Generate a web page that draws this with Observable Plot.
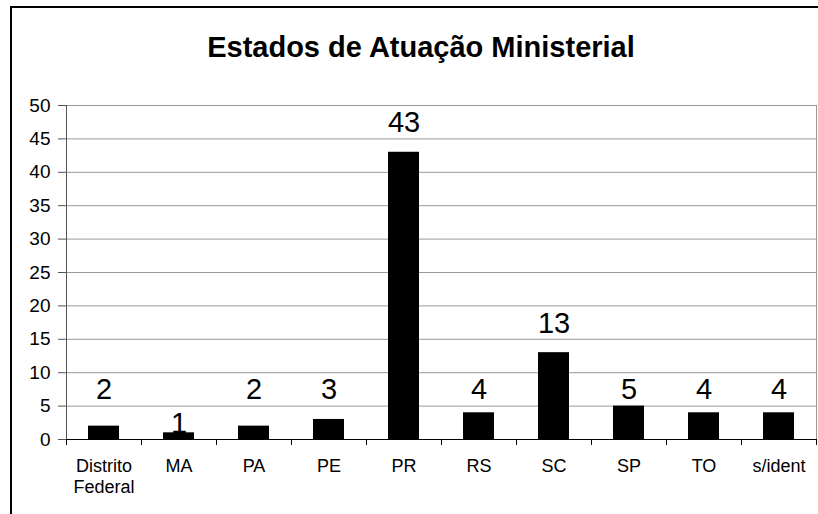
<!DOCTYPE html>
<html>
<head>
<meta charset="utf-8">
<script src="https://cdn.jsdelivr.net/npm/d3@7"></script>
<script src="https://cdn.jsdelivr.net/npm/@observablehq/plot@0.6"></script>
<style>
  html, body { margin: 0; padding: 0; background: #fff; overflow: hidden; }
  #wrap { position: relative; width: 818px; height: 514px; overflow: hidden; font-family: "Liberation Sans", Arial, sans-serif; }
  #border { position: absolute; left: 10px; top: 6px; width: 900px; height: 700px; border: 2px solid #000; box-sizing: border-box; }
  #title { position: absolute; left: 12px; width: 818px; top: 32px; text-align: center; font-weight: bold; font-size: 29px; line-height: 30px; color: #000; }
  #chart { position: absolute; left: 0; top: 75px; }
</style>
</head>
<body>
<div id="wrap">
  <div id="border"></div>
  <div id="title">Estados de Atuação Ministerial</div>
  <div id="chart"></div>
</div>
<script>
const states = ["Distrito Federal", "MA", "PA", "PE", "PR", "RS", "SC", "SP", "TO", "s/ident"];
const counts = [2, 1, 2, 3, 43, 4, 13, 5, 4, 4];
const yTicks = [0, 5, 10, 15, 20, 25, 30, 35, 40, 45, 50];

const data = states.map((s, i) => ({state: s, count: counts[i]}));

// label placement as in the original (small-bar labels sit on a common line)
const labelAt = d => d.count === 1 ? d.count : d.count >= 10 ? d.count + 3 : 6.1;

const step = 75;
const font = "Liberation Sans, Arial, sans-serif";

const chart = Plot.plot({
  width: 818,
  height: 439,
  marginTop: 30,
  marginBottom: 75,
  marginLeft: 66,
  marginRight: 2,
  style: {fontFamily: font, background: "transparent", color: "#000"},
  x: {domain: states, paddingInner: 0.587, paddingOuter: 0.2935, label: null},
  y: {domain: [0, 50], label: null},
  marks: [
    Plot.frame({stroke: "#999"}),
    Plot.ruleY(yTicks.filter(t => t > 0), {stroke: "#999"}),
    Plot.barY(data, {x: "state", y: "count", fill: "#000"}),
    Plot.ruleX([states[0]], {x: d => d, y1: 0, y2: 50, dx: -step / 2, stroke: "#555"}),
    Plot.ruleY([0], {stroke: "#000"}),
    Plot.ruleX(states, {x: d => d, y1: 0, y2: -0.9, dx: -step / 2, stroke: "#000"}),
    Plot.ruleX([states[states.length - 1]], {x: d => d, y1: 0, y2: -0.9, dx: step / 2, stroke: "#000"}),
    Plot.axisY({ticks: yTicks, tickSize: 8, tickPadding: 8, fontSize: 19, stroke: "#555", fill: "#000", label: null}),
    Plot.axisX({tickSize: 0, tickPadding: 18, fontSize: 18, lineHeight: 1.167, fill: "#000", label: null,
      tickFormat: d => d.replace(" ", "\n")}),
    Plot.text(data, {x: "state", y: labelAt, text: d => String(d.count), fontSize: 29, lineAnchor: "bottom", fill: "#000"})
  ]
});
document.getElementById("chart").appendChild(chart);
</script>
</body>
</html>
